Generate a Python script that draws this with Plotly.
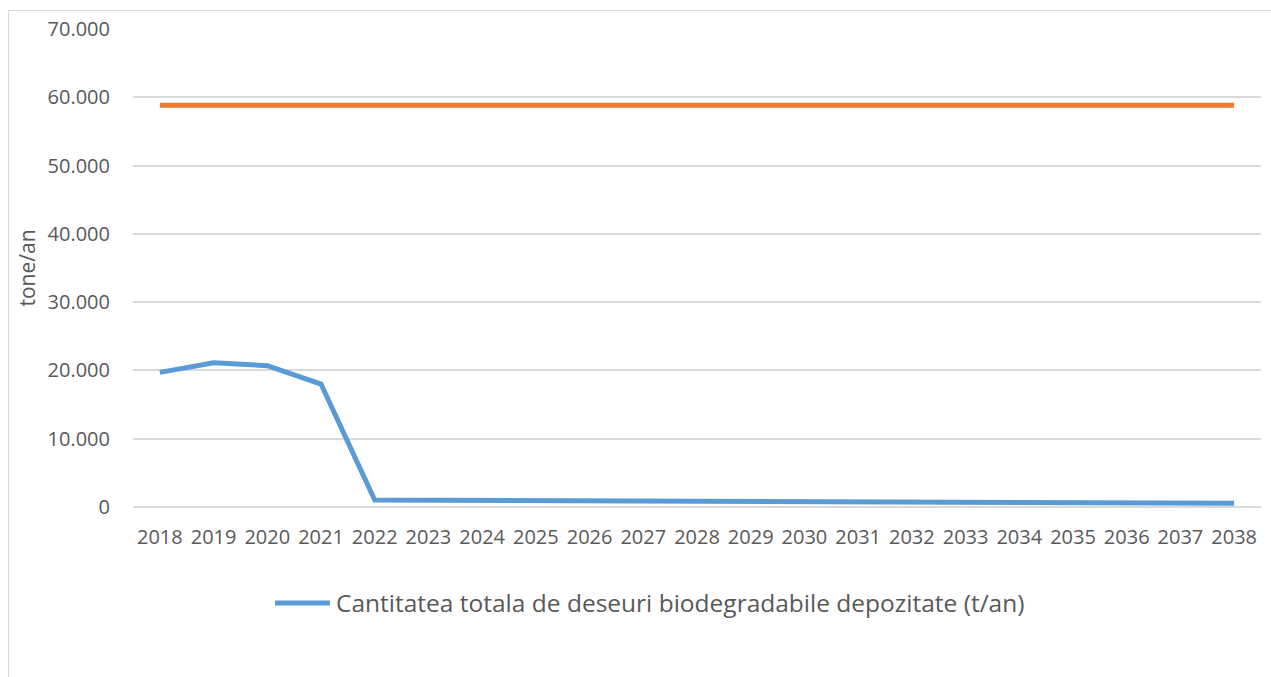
import plotly.graph_objects as go

# Annual quantities (t/an)
years = [str(y) for y in range(2018, 2039)]
biodegradable_deposited = [19720, 21130, 20690, 18010, 1020, 980, 960, 950, 940, 900,
                           780, 770, 760, 720, 700, 580, 570, 560, 560, 550, 540]
target_limit = [58830] * len(years)

legend_label = "Cantitatea totala de deseuri biodegradabile depozitate (t/an)"
y_ticks = [0, 10000, 20000, 30000, 40000, 50000, 60000, 70000]

BLUE = "#5B9BD5"
ORANGE = "#ED7D31"
GRID = "#D9D9D9"
TEXT = "#595959"
FONT = "Open Sans"

fig = go.Figure()
fig.add_trace(go.Scatter(x=years, y=biodegradable_deposited, mode="lines",
                         line=dict(color=BLUE, width=5), name=legend_label,
                         showlegend=False))
fig.add_trace(go.Scatter(x=years, y=target_limit, mode="lines",
                         line=dict(color=ORANGE, width=5), showlegend=False))

# chart frame
fig.add_shape(type="rect", xref="paper", yref="paper",
              x0=-0.1104, x1=1.2, y0=-0.5, y1=1.0387,
              line=dict(color=GRID, width=1), fillcolor="rgba(0,0,0,0)", layer="below")

# legend entry at the bottom
fig.add_shape(type="line", xref="paper", yref="paper",
              x0=0.1259, x1=0.1746, y0=-0.2008, y1=-0.2008,
              line=dict(color=BLUE, width=5))
fig.add_annotation(text=legend_label, xref="paper", yref="paper",
                   x=0.178, y=-0.2008, xanchor="left", yanchor="middle",
                   showarrow=False, font=dict(family=FONT, size=24.5, color=TEXT))

fig.update_layout(
    width=1271, height=677,
    margin=dict(l=133, r=10, t=29, b=170, autoexpand=False),
    paper_bgcolor="white", plot_bgcolor="white",
    separators=",.",
    font=dict(family=FONT, color=TEXT, size=20),
    showlegend=False,
)
fig.update_xaxes(type="category", range=[-0.5, len(years) - 0.5],
                 showgrid=False, showline=False, ticks="", automargin=False,
                 tickfont=dict(family=FONT, size=20, color=TEXT),
                 ticklabelstandoff=16)
fig.update_yaxes(range=[0, 70000], tickvals=y_ticks, tickformat=",d",
                 showgrid=True, gridcolor=GRID, gridwidth=1.5,
                 zeroline=True, zerolinecolor=GRID, zerolinewidth=1.5,
                 showline=False, ticks="", automargin=False,
                 tickfont=dict(family=FONT, size=20, color=TEXT),
                 ticklabelstandoff=22,
                 title=dict(text="tone/an", font=dict(family=FONT, size=21, color=TEXT),
                            standoff=6))

fig.write_html("out.html")
